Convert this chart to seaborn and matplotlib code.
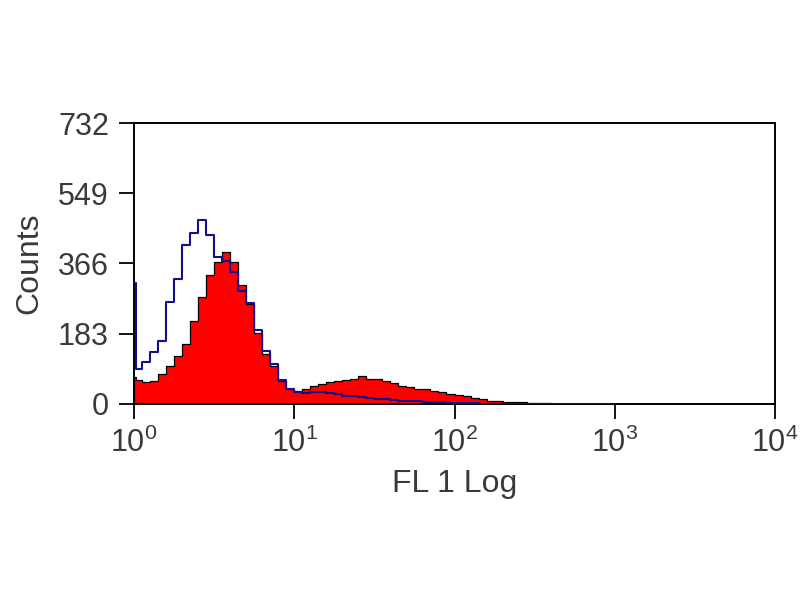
import numpy as np
import pandas as pd
import matplotlib
matplotlib.use("Agg")
import matplotlib.pyplot as plt
import seaborn as sns

# -------------------------
# Data (FL1 log channels in decades)
# -------------------------
# bin edges in log10 units: a thin first channel, then 0.05-decade bins
bin_edges = [0.0, 0.012] + [round(v, 3) for v in np.arange(0.05, 3.0001, 0.05)]

# stained sample (red, filled)
red_counts = [70, 62, 58, 60, 78, 100, 125, 155, 215, 280, 335, 370, 395, 370, 310,
              260, 185, 130, 100, 60, 40, 34, 38, 48, 52, 56, 60, 62, 66, 72,
              66, 64, 60, 54, 48, 44, 40, 38, 34, 30, 26, 24, 20, 16, 12,
              9, 7, 5, 4, 4, 3, 2, 2, 1, 1, 0, 0, 0, 0, 0, 0]

# control (blue outline)
blue_counts = [315, 90, 110, 135, 165, 265, 325, 415, 445, 480, 440, 382, 372, 345, 295,
               262, 192, 138, 104, 62, 40, 30, 28, 30, 30, 28, 25, 22, 20, 18,
               15, 13, 12, 10, 9, 8, 7, 6, 5, 4, 3, 3, 2, 2, 1,
               1, 0, 0, 0, 0, 0, 0, 0, 0, 0, 0, 0, 0, 0, 0, 0]

y_ticks = [0, 183, 366, 549, 732]
x_ticks = [0, 1, 2, 3, 4]
x_tick_labels = [r"$\mathregular{10^{%d}}$" % k for k in x_ticks]

edges = np.array(bin_edges)
centers = (edges[:-1] + edges[1:]) / 2
df = pd.DataFrame({"fl1": centers, "red": red_counts, "blue": blue_counts})

# -------------------------
# Plot
# -------------------------
sns.set_style("ticks")
plt.rcParams["font.family"] = ["Liberation Sans", "DejaVu Sans"]

fig = plt.figure(figsize=(8, 6), dpi=100)
ax = fig.add_axes([0.1675, 0.3267, 0.80125, 0.4683])

sns.histplot(data=df, x="fl1", weights="red", bins=bin_edges, element="step",
             fill=True, color="#ff0000", alpha=1.0, edgecolor="black",
             linewidth=0.9, ax=ax, zorder=2)
sns.histplot(data=df, x="fl1", weights="blue", bins=bin_edges, element="step",
             fill=False, color="#10108c", linewidth=1.5, ax=ax, zorder=3)

ax.set_xlim(0, 4)
ax.set_ylim(0, 732)
ax.set_xticks(x_ticks)
ax.set_xticklabels(x_tick_labels)
ax.set_yticks(y_ticks)

for side in ["top", "right", "left", "bottom"]:
    ax.spines[side].set_visible(True)
    ax.spines[side].set_color("black")
    ax.spines[side].set_linewidth(1.4)

ax.tick_params(axis="both", direction="out", length=11, width=1.3,
               colors="black", labelcolor="#3a3a3a", labelsize=22)
ax.tick_params(axis="y", pad=7)
ax.tick_params(axis="x", pad=6)

ax.set_ylabel("Counts", fontsize=23, color="#3a3a3a", labelpad=10)
ax.set_xlabel("FL 1 Log", fontsize=23, color="#3a3a3a", labelpad=7)

fig.savefig("out.png", dpi=100)
